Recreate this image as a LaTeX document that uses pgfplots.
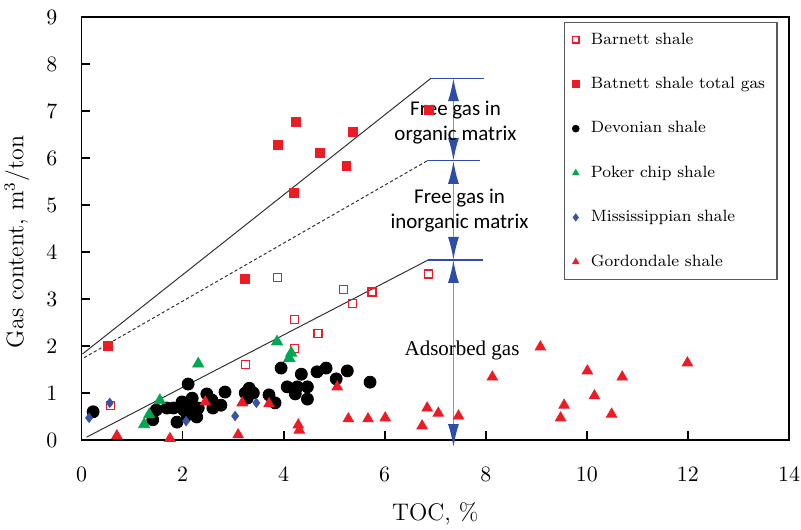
\documentclass[border=0pt]{standalone}
\usepackage{fontspec}
\usepackage{pgfplots}
\pgfplotsset{compat=1.18}
\usetikzlibrary{arrows.meta}
\newfontfamily\carlito{Carlito}
\newfontfamily\libserif{Liberation Serif}
\definecolor{myred}{HTML}{ED1C24}
\definecolor{mygreen}{HTML}{00A651}
\definecolor{myblue}{HTML}{3953A4}
\definecolor{arrowblue}{HTML}{2E4DA7}
\definecolor{lineblue}{HTML}{7D95CF}
\begin{document}
\begin{tikzpicture}
\begin{axis}[name=ax, scale only axis, width=353.75pt, height=211.5pt,
 xmin=0, xmax=14, ymin=0, ymax=9,
 xtick={0,2,...,14}, ytick={0,1,...,9},
 tick align=inside, tick pos=left, major tick length=4.5pt,
 tick style={black, line width=0.9pt},
 axis line style={line width=0.9pt},
 ticklabel style={font=\fontsize{11}{13}\selectfont},
 xticklabel shift=10.4pt,
 yticklabel shift=8.5pt,
 xlabel={TOC, \%}, ylabel={Gas content, m$^3$/ton},
 every axis x label/.style={at={(axis description cs:0.5,-0.175)}, anchor=center, font=\fontsize{12}{14}\selectfont},
 every axis y label/.style={at={(axis description cs:-0.0912,0.468)}, rotate=90, anchor=center, font=\fontsize{12}{14}\selectfont},
 clip=false,
 legend style={at={(0.984,0.988)}, anchor=north east, draw=black!65, line width=0.6pt,
   font=\fontsize{8.2}{10}\selectfont, row sep=11pt, inner ysep=3pt, inner xsep=4pt,
   /tikz/every odd column/.append style={column sep=4pt}},
 legend cell align=left,
 legend image post style={mark size=1.6pt},
]
\addplot[only marks, mark=square, mark size=2pt, mark options={draw=myred, fill=white, line width=0.6pt}] coordinates {
(0.58,0.73) (3.25,1.60) (3.88,3.45) (4.21,2.57) (4.21,1.94) (4.68,2.26) (5.18,3.21) (5.37,2.91) (5.75,3.15) (6.86,3.53)};
\addlegendentry{Barnett shale}
\addplot[only marks, mark=square*, mark size=2.2pt, mark options={draw=myred, fill=myred}] coordinates {
(0.53,2.0) (3.24,3.42) (3.89,6.28) (4.25,6.77) (4.21,5.26) (4.72,6.11) (5.24,5.83) (5.37,6.55) (6.88,7.02)};
\addlegendentry{Batnett shale total gas}
\addplot[only marks, mark=*, mark size=3pt, mark options={draw=black, fill=black}] coordinates {
(0.23,0.60) (2.11,1.19) (1.48,0.64) (1.41,0.43) (1.69,0.68) (1.82,0.68) (1.89,0.38) (1.99,0.81) (2.02,0.64) (2.09,0.53) (2.07,0.78) (2.19,0.89) (2.21,0.66) (2.28,0.49) (2.31,0.68) (2.48,0.98) (2.58,0.85) (2.60,0.68) (2.76,0.74) (2.84,1.02) (3.24,1.00) (3.32,1.10) (3.40,1.00) (3.28,0.89) (3.71,0.96) (3.83,0.79) (3.95,1.53) (4.07,1.13) (4.23,1.06) (4.27,1.13) (4.23,0.98) (4.35,1.40) (4.47,1.13) (4.47,0.87) (4.66,1.45) (4.84,1.53) (5.04,1.30) (5.26,1.47) (5.71,1.23)};
\addlegendentry{Devonian shale}
\addplot[only marks, mark=triangle*, mark size=3.2pt, mark options={draw=mygreen, fill=mygreen}] coordinates {
(1.24,0.33) (1.34,0.54) (1.55,0.84) (2.31,1.62) (3.87,2.09) (4.15,1.85) (4.11,1.74)};
\addlegendentry{Poker chip shale}
\addplot[only marks, mark=diamond*, mark size=2.3pt, mark options={draw=myblue, fill=myblue}] coordinates {
(0.15,0.47) (0.56,0.79) (2.07,0.40) (3.04,0.51) (3.46,0.79)};
\addlegendentry{Mississippian shale}
\addplot[only marks, mark=triangle*, mark size=3pt, mark options={draw=myred, fill=myred}] coordinates {
(0.70,0.09) (1.75,0.03) (2.45,0.81) (3.10,0.11) (3.18,0.79) (3.71,0.77) (4.29,0.32) (4.31,0.21) (5.06,1.13) (5.28,0.45) (5.67,0.45) (6.01,0.47) (6.74,0.30) (6.84,0.68) (7.06,0.57) (7.46,0.51) (8.13,1.34) (9.08,1.98) (9.48,0.47) (9.55,0.74) (10.01,1.47) (10.15,0.94) (10.49,0.55) (10.70,1.34) (11.99,1.64)};
\addlegendentry{Gordondale shale}
% model lines
\addplot[forget plot, black!80, line width=0.5pt] coordinates {(0.02,1.83) (6.92,7.70)};
\addplot[forget plot, black!80, line width=0.5pt, dash pattern=on 1.6pt off 1.2pt] coordinates {(0.05,1.75) (6.84,5.94)};
\addplot[forget plot, black!80, line width=0.5pt] coordinates {(0.10,0.06) (6.86,3.83)};
% blue markers
\draw[arrowblue, line width=0.6pt] (axis cs:6.92,7.70) -- (axis cs:7.97,7.70);
\draw[arrowblue, line width=0.6pt] (axis cs:6.84,5.94) -- (axis cs:7.89,5.94);
\draw[arrowblue, line width=0.6pt] (axis cs:6.86,3.83) -- (axis cs:7.95,3.83);
\draw[lineblue, line width=0.8pt, {Latex[length=11.5pt,width=5.5pt,color=arrowblue]}-{Latex[length=11.5pt,width=5.5pt,color=arrowblue]}] (axis cs:7.36,7.70) -- (axis cs:7.36,5.94);
\draw[lineblue, line width=0.8pt, {Latex[length=11.5pt,width=5.5pt,color=arrowblue]}-{Latex[length=11.5pt,width=5.5pt,color=arrowblue]}] (axis cs:7.36,5.94) -- (axis cs:7.36,3.83);
\draw[lineblue, line width=0.8pt, {Latex[length=11.5pt,width=5.5pt,color=arrowblue]}-{Latex[length=11.5pt,width=5.5pt,color=arrowblue]}] (axis cs:7.36,3.83) -- (axis cs:7.36,-0.15);
\node[font=\carlito\fontsize{10.5}{12.5}\selectfont, align=center] at (axis cs:7.40,6.76) {Free gas in\\organic matrix};
\node[font=\carlito\fontsize{10.5}{12.5}\selectfont, align=center] at (axis cs:7.48,4.89) {Free gas in\\inorganic matrix};
\node[font=\libserif\fontsize{10.5}{12.5}\selectfont] at (axis cs:7.53,1.91) {Adsorbed gas};
\end{axis}
\pgfresetboundingbox
\path ([xshift=-40.75pt,yshift=-45pt]ax.south west) rectangle ([xshift=6pt,yshift=8.5pt]ax.north east);
\end{tikzpicture}
\end{document}
